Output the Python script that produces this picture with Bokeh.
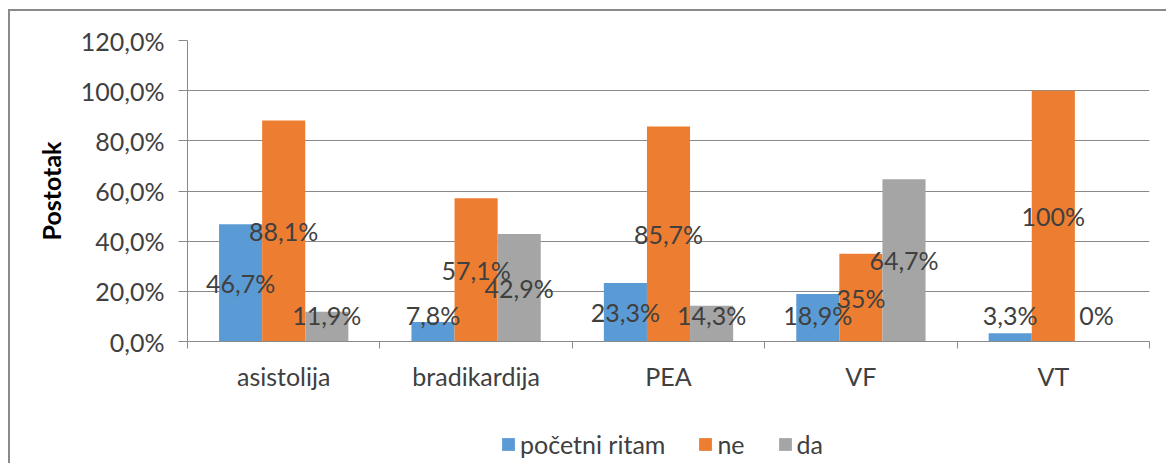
import numpy as np
from bokeh.plotting import figure
from bokeh.layouts import column
from bokeh.models import (Range1d, FixedTicker, ColumnDataSource, Legend, LegendItem)
from bokeh.core.properties import value
from bokeh.embed import file_html
from bokeh.resources import INLINE

categories = ["asistolija", "bradikardija", "PEA", "VF", "VT"]
series_names = ["početni ritam", "ne", "da"]
pocetni_ritam = [46.7, 7.8, 23.3, 18.9, 3.3]
ne = [88.1, 57.1, 85.7, 35.0, 100.0]
da = [11.9, 42.9, 14.3, 64.7, 0.0]
label_pocetni = ["46,7%", "7,8%", "23,3%", "18,9%", "3,3%"]
label_ne = ["88,1%", "57,1%", "85,7%", "35%", "100%"]
label_da = ["11,9%", "42,9%", "14,3%", "64,7%", "0%"]
y_ticks = [0, 20, 40, 60, 80, 100, 120]
y_tick_labels = ["0,0%", "20,0%", "40,0%", "60,0%", "80,0%", "100,0%", "120,0%"]

colors = ["#5B9BD5", "#ED7D31", "#A5A5A5"]
FONT = "Lato"
TXT = "#404040"
GRID = "#8a8a8a"

p = figure(width=1156, height=390, output_backend="svg", toolbar_location=None,
           x_range=Range1d(0, len(categories)), y_range=Range1d(0, 120),
           min_border_left=177, min_border_right=17, min_border_top=29, min_border_bottom=60)
p.outline_line_color = None
p.background_fill_color = "white"
p.border_fill_color = "white"

# axes
p.xaxis.ticker = FixedTicker(ticks=[i + 0.5 for i in range(len(categories))],
                             minor_ticks=list(range(len(categories) + 1)))
p.xaxis.major_label_overrides = {i + 0.5: c for i, c in enumerate(categories)}
p.xaxis.major_tick_line_color = None
p.xaxis.major_tick_out = 0
p.xaxis.minor_tick_line_color = GRID
p.xaxis.minor_tick_out = 7
p.xaxis.minor_tick_in = 0
p.xaxis.axis_line_color = GRID
p.xaxis.major_label_text_font = FONT
p.xaxis.major_label_text_font_size = "25px"
p.xaxis.major_label_text_color = TXT
p.xaxis.major_label_standoff = 12

p.yaxis.ticker = FixedTicker(ticks=y_ticks, minor_ticks=[])
p.yaxis.major_label_overrides = dict(zip(y_ticks, y_tick_labels))
p.yaxis.major_tick_line_color = GRID
p.yaxis.major_tick_out = 9
p.yaxis.major_tick_in = 0
p.yaxis.axis_line_color = GRID
p.yaxis.major_label_text_font = FONT
p.yaxis.major_label_text_font_size = "25px"
p.yaxis.major_label_text_color = TXT
p.yaxis.major_label_standoff = 14
p.yaxis.axis_label = "Postotak"
p.yaxis.axis_label_text_font = FONT
p.yaxis.axis_label_text_font_style = "bold"
p.yaxis.axis_label_text_font_size = "25px"
p.yaxis.axis_label_text_color = "black"
p.yaxis.axis_label_standoff = 12

p.xgrid.grid_line_color = None
p.ygrid.grid_line_color = GRID
p.ygrid.grid_line_width = 1

bar_w = 0.224
offsets = [-bar_w, 0.0, bar_w]
series = [pocetni_ritam, ne, da]
labels = [label_pocetni, label_ne, label_da]
centers = np.arange(len(categories)) + 0.5
sources = []
for k in range(3):
    xs = centers + offsets[k]
    vals = np.array(series[k])
    src = ColumnDataSource(dict(x=xs, top=vals, ly=np.maximum(vals / 2.0, 10.5), lab=labels[k]))
    sources.append(src)
    p.vbar(x="x", top="top", width=bar_w, bottom=0, source=src,
           fill_color=colors[k], line_color=None)

# labels drawn after all bars, so they sit on top
for k in range(3):
    p.text(x="x", y="ly", text="lab", source=sources[k], text_align="center",
           text_baseline="middle", text_font=value(FONT), text_font_size="25px",
           text_color=TXT)

# legend strip (its view range lies above all bars, so only the legend shows)
lg = figure(width=1156, height=62, output_backend="svg", toolbar_location=None,
            x_range=p.x_range, y_range=Range1d(200, 300),
            min_border_left=177, min_border_right=17, min_border_top=0, min_border_bottom=0)
lg.axis.visible = False
lg.grid.visible = False
lg.outline_line_color = None
lg.background_fill_color = "white"
lg.border_fill_color = "white"
items = []
for k in range(3):
    r = lg.vbar(x="x", top="top", width=bar_w, bottom=0, source=sources[k],
                fill_color=colors[k], line_color=None)
    items.append(LegendItem(label=series_names[k], renderers=[r]))
legend = Legend(items=items, orientation="horizontal", location=(313, 4),
                label_text_font=FONT, label_text_font_size="25px", label_text_color=TXT,
                glyph_width=16, glyph_height=16, label_standoff=4, spacing=32,
                border_line_color=None, background_fill_alpha=0, padding=0, margin=0)
lg.add_layout(legend, "center")

layout = column(p, lg, spacing=0,
                styles={"border-left": "2px solid #8a8a8a", "border-top": "2px solid #8a8a8a",
                        "margin-left": "8px", "margin-top": "9px"})

open("out.html", "w").write(file_html(layout, INLINE))
